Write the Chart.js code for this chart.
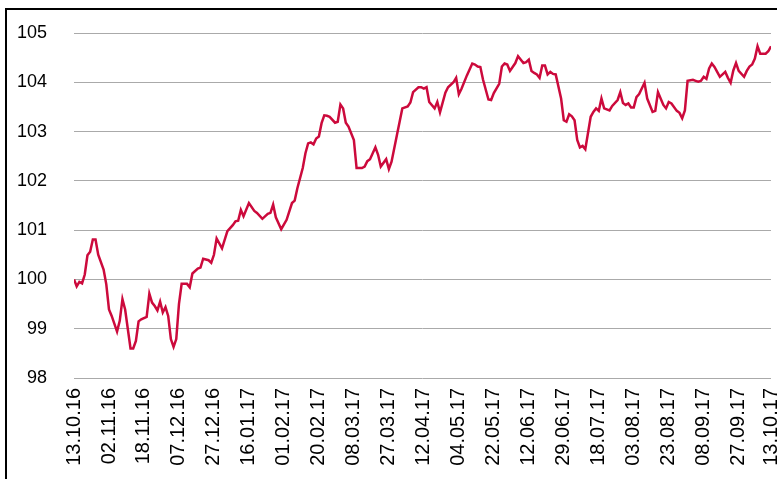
<!DOCTYPE html>
<html>
<head>
<meta charset="utf-8">
<script src="https://cdn.jsdelivr.net/npm/chart.js@4.4.1/dist/chart.umd.min.js"></script>
<style>
  html, body { margin: 0; padding: 0; background: #fff; overflow: hidden; }
  #wrap { position: relative; width: 777px; height: 479px; }
  #frame { position: absolute; left: 5px; top: 8px; width: 900px; height: 600px;
           border-left: 2px solid #000; border-top: 2px solid #000; }
  canvas { position: absolute; left: 0; top: 0; }
</style>
</head>
<body>
<div id="wrap">
  <div id="frame"></div>
  <canvas id="indexChart" width="777" height="479"></canvas>
</div>
<script>
// trading day (counted from 13.10.16) and index level
const days = [0,1,2,3,4,5,6,7,8,9,11,12,13,14,16,17,18,19,21,22,23,24,25,27,28,29,30,31,32,33,34,35,36,37,38,39,40,42,43,44,46,47,48,50,51,52,53,55,57,59,60,61,62,63,65,67,68,70,72,73,74,75,77,79,81,82,83,85,86,87,88,89,90,91,92,93,94,95,97,98,99,100,101,102,104,105,107,108,109,110,112,113,114,116,117,118,120,121,122,124,125,126,128,129,130,131,132,134,135,136,138,139,141,142,143,144,146,148,149,150,151,152,154,155,156,158,159,160,161,162,164,165,167,168,169,170,171,172,173,174,175,176,177,178,179,181,182,183,184,185,186,187,188,189,190,192,193,194,195,196,197,199,200,202,203,204,205,206,207,208,209,210,212,213,215,216,217,219,220,221,222,224,225,226,227,228,230,231,232,233,234,235,236,237,238,239,240,241,242,243,244,245,246,247,249,250,251,252,253,254,255,256,257,258,259];
const levels = [100.00,99.86,99.95,99.92,100.10,100.49,100.56,100.81,100.81,100.50,100.20,99.90,99.39,99.26,98.94,99.16,99.60,99.39,98.60,98.60,98.75,99.15,99.19,99.24,99.71,99.53,99.46,99.37,99.55,99.33,99.44,99.26,98.79,98.63,98.79,99.50,99.91,99.91,99.84,100.12,100.22,100.24,100.42,100.39,100.34,100.50,100.83,100.63,100.98,101.10,101.18,101.19,101.41,101.28,101.55,101.39,101.35,101.23,101.33,101.35,101.52,101.26,101.02,101.21,101.55,101.60,101.85,102.26,102.56,102.76,102.78,102.74,102.86,102.90,103.17,103.33,103.32,103.30,103.18,103.20,103.55,103.47,103.18,103.10,102.83,102.26,102.26,102.29,102.40,102.44,102.68,102.53,102.29,102.44,102.24,102.39,102.93,103.20,103.47,103.51,103.59,103.80,103.90,103.90,103.87,103.90,103.60,103.47,103.60,103.39,103.79,103.90,104.00,104.09,103.76,103.87,104.14,104.38,104.36,104.32,104.31,104.05,103.65,103.64,103.78,103.97,104.32,104.38,104.36,104.23,104.39,104.53,104.39,104.41,104.46,104.23,104.19,104.16,104.09,104.34,104.34,104.16,104.21,104.17,104.16,103.67,103.23,103.20,103.35,103.31,103.23,102.83,102.68,102.71,102.64,103.30,103.40,103.47,103.42,103.67,103.47,103.43,103.52,103.64,103.80,103.58,103.54,103.57,103.49,103.49,103.70,103.76,103.99,103.67,103.40,103.42,103.80,103.54,103.47,103.60,103.57,103.42,103.38,103.27,103.43,104.03,104.05,104.03,104.01,104.03,104.11,104.07,104.28,104.38,104.31,104.21,104.11,104.16,104.21,104.09,103.99,104.24,104.39,104.23,104.11,104.23,104.32,104.36,104.48,104.73,104.58,104.58,104.58,104.63,104.73];

// dates shown under the axis
const tickDays = [0,13,26,39,52,65,78,91,104,117,130,143,156,169,182,195,208,221,234,247,259];
const tickLabels = ["13.10.16","02.11.16","18.11.16","07.12.16","27.12.16","16.01.17","01.02.17","20.02.17","08.03.17","27.03.17","12.04.17","04.05.17","22.05.17","12.06.17","29.06.17","18.07.17","03.08.17","23.08.17","08.09.17","27.09.17","13.10.17"];

const yMin = 98, yMax = 105;

const points = days.map((d, i) => ({ x: d, y: levels[i] }));

const ctx = document.getElementById("indexChart").getContext("2d");
new Chart(ctx, {
  type: "line",
  data: {
    datasets: [{
      data: points,
      borderColor: "#cc0a3c",
      borderWidth: 2.5,
      pointRadius: 0,
      tension: 0,
      fill: false
    }]
  },
  options: {
    responsive: false,
    animation: false,
    layout: { padding: { left: 0, right: 6, top: 33, bottom: 0 } },
    plugins: { legend: { display: false }, tooltip: { enabled: false } },
    scales: {
      x: {
        type: "linear",
        min: 0,
        max: 259,
        grid: { display: false, drawTicks: false },
        border: { display: false },
        afterBuildTicks: (scale) => {
          scale.ticks = tickDays.map(v => ({ value: v }));
        },
        afterFit: (scale) => {
          scale.height = 101;
          scale.paddingLeft = 0;
          scale.paddingRight = 0;
        },
        ticks: {
          autoSkip: false,
          maxRotation: 90,
          minRotation: 90,
          padding: 10,
          color: "#000",
          font: { family: "Liberation Sans", size: 20 },
          callback: (v) => tickLabels[tickDays.indexOf(v)]
        }
      },
      y: {
        min: yMin,
        max: yMax,
        afterFit: (scale) => {
          scale.width = 74;
          scale.paddingTop = 0;
          scale.paddingBottom = 0;
        },
        grid: { color: "#aaaaaa", lineWidth: 1, drawTicks: false },
        border: { display: false },
        ticks: {
          stepSize: 1,
          padding: 27,
          color: "#000",
          font: { family: "Liberation Sans", size: 18 }
        }
      }
    }
  }
});
</script>
</body>
</html>
